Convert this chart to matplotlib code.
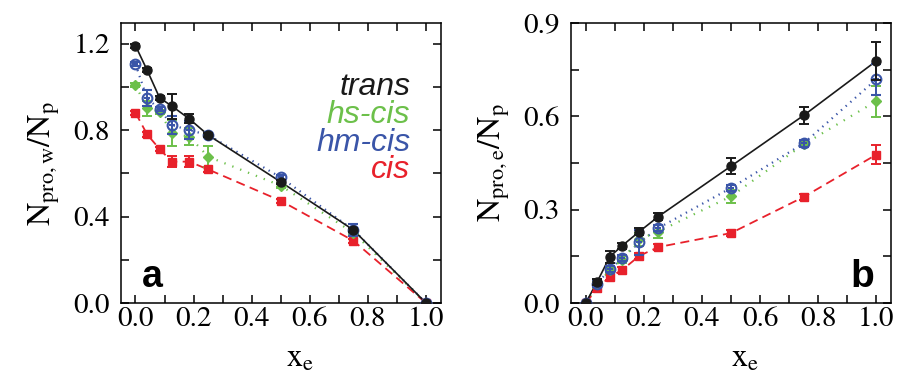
import matplotlib
matplotlib.use("Agg")
import matplotlib.pyplot as plt
from matplotlib.ticker import MultipleLocator

plt.rcParams['mathtext.fontset'] = 'stix'
plt.rcParams['font.family'] = 'STIXGeneral'

# data
x_e = [0.0, 0.04, 0.083, 0.125, 0.185, 0.25, 0.5, 0.75, 1.0]

# panel a : N_pro,w / N_p
trans_w = [1.19, 1.077, 0.949, 0.911, 0.852, 0.777, 0.56, 0.338, 0.0]
trans_w_err = [0.01, 0.01, 0.01, 0.058, 0.02, 0.01, 0.01, 0.01, 0.0]
hs_w = [1.008, 0.90, 0.885, 0.785, 0.77, 0.677, 0.543, 0.325, 0.0]
hs_w_err = [0.01, 0.035, 0.01, 0.06, 0.04, 0.05, 0.01, 0.01, 0.0]
hm_w = [1.105, 0.946, 0.897, 0.823, 0.80, 0.777, 0.581, 0.338, 0.0]
hm_w_err = [0.01, 0.037, 0.01, 0.04, 0.04, 0.01, 0.01, 0.03, 0.0]
cis_w = [0.88, 0.78, 0.712, 0.654, 0.654, 0.618, 0.473, 0.288, 0.0]
cis_w_err = [0.01, 0.01, 0.01, 0.025, 0.025, 0.01, 0.01, 0.01, 0.0]

# panel b : N_pro,e / N_p
trans_e = [0.0, 0.069, 0.149, 0.184, 0.23, 0.278, 0.44, 0.603, 0.778]
trans_e_err = [0.0, 0.01, 0.02, 0.01, 0.01, 0.01, 0.025, 0.027, 0.06]
hs_e = [0.0, 0.06, 0.105, 0.14, 0.205, 0.23, 0.343, 0.51, 0.649]
hs_e_err = [0.0, 0.01, 0.01, 0.01, 0.02, 0.02, 0.02, 0.01, 0.05]
hm_e = [0.0, 0.063, 0.109, 0.144, 0.195, 0.241, 0.37, 0.513, 0.719]
hm_e_err = [0.0, 0.01, 0.01, 0.01, 0.04, 0.01, 0.01, 0.01, 0.05]
cis_e = [0.0, 0.047, 0.085, 0.106, 0.152, 0.18, 0.225, 0.341, 0.477]
cis_e_err = [0.0, 0.01, 0.01, 0.01, 0.01, 0.01, 0.01, 0.01, 0.03]

labels = ['trans', 'hs-cis', 'hm-cis', 'cis']
c_black = '#1a1a1a'
c_green = '#6cc04a'
c_blue = '#3a55a8'
c_red = '#e8212b'

fig = plt.figure(figsize=(8.98, 3.77), dpi=100)
ax1 = fig.add_axes([0.1347, 0.196, 0.356, 0.743])
ax2 = fig.add_axes([0.636, 0.196, 0.356, 0.743])


def draw(ax, tr, tre, hs, hse, hm, hme, ci, cie):
    ax.plot(x_e, hm, ls=(0, (0.6, 2.2)), color=c_blue, lw=1.6, zorder=2)
    ax.plot(x_e, hs, ls=(0, (0.6, 3.2)), color=c_green, lw=1.6, zorder=2)
    ax.plot(x_e, ci, ls=(0, (5, 3)), color=c_red, lw=1.3, zorder=2)
    ax.plot(x_e, tr, ls='-', color=c_black, lw=1.2, zorder=3)
    ax.errorbar(x_e, ci, yerr=cie, fmt='s', color=c_red, ms=6, capsize=3.5,
                elinewidth=1.4, capthick=1.4, zorder=4)
    ax.errorbar(x_e, hs, yerr=hse, fmt='D', color=c_green, ms=5, capsize=3.5,
                elinewidth=1.4, capthick=1.4, zorder=4)
    ax.errorbar(x_e, hm, yerr=hme, fmt='o', color=c_blue, mfc='none', mew=1.5,
                ms=7, capsize=3.5, elinewidth=1.4, capthick=1.4, zorder=5)
    ax.plot(x_e, hm, ls='none', marker='_', color=c_blue, ms=5, mew=1.5, zorder=5)
    ax.errorbar(x_e, tr, yerr=tre, fmt='o', color=c_black, ms=6.5, capsize=3.5,
                elinewidth=1.4, capthick=1.4, zorder=6)
    ax.set_xlim(-0.05, 1.05)
    ax.xaxis.set_major_locator(MultipleLocator(0.2))
    ax.xaxis.set_minor_locator(MultipleLocator(0.1))
    ax.tick_params(which='both', direction='in', top=True, right=True,
                   length=6, width=1.1, labelsize=21)
    ax.tick_params(axis='x', pad=3)
    ax.tick_params(axis='y', pad=8)
    for s in ax.spines.values():
        s.set_linewidth(1.1)
    ax.set_xlabel(r'$\mathrm{x_e}$', fontsize=23)


draw(ax1, trans_w, trans_w_err, hs_w, hs_w_err, hm_w, hm_w_err, cis_w, cis_w_err)
draw(ax2, trans_e, trans_e_err, hs_e, hs_e_err, hm_e, hm_e_err, cis_e, cis_e_err)
ax1.xaxis.set_label_coords(0.56, -0.148)
ax2.xaxis.set_label_coords(0.545, -0.148)

ax1.set_ylim(0, 1.295)
ax1.yaxis.set_major_locator(MultipleLocator(0.4))
ax1.yaxis.set_minor_locator(MultipleLocator(0.2))
ax1.set_ylabel(r'$\mathrm{N_{pro,w}/N_p}$', fontsize=23, labelpad=8)

ax2.set_ylim(0, 0.9)
ax2.yaxis.set_major_locator(MultipleLocator(0.3))
ax2.yaxis.set_minor_locator(MultipleLocator(0.15))
ax2.set_ylabel(r'$\mathrm{N_{pro,e}/N_p}$', fontsize=23, labelpad=8)

# legend as coloured text
leg_y = [0.962, 0.832, 0.703, 0.578]
for lab, col, yy in zip(labels, [c_black, c_green, c_blue, c_red], leg_y):
    ax1.text(0.945, yy, lab, color=col, fontsize=23, style='italic',
             family='Liberation Sans', ha='right', va='baseline')

ax1.text(0.023, 0.075, 'a', fontsize=27, fontweight='bold',
         family='Liberation Sans', ha='left', va='baseline')
ax2.text(0.991, 0.053, 'b', fontsize=28, fontweight='bold',
         family='Liberation Sans', ha='right', va='baseline')

fig.savefig('out.png', dpi=100)
